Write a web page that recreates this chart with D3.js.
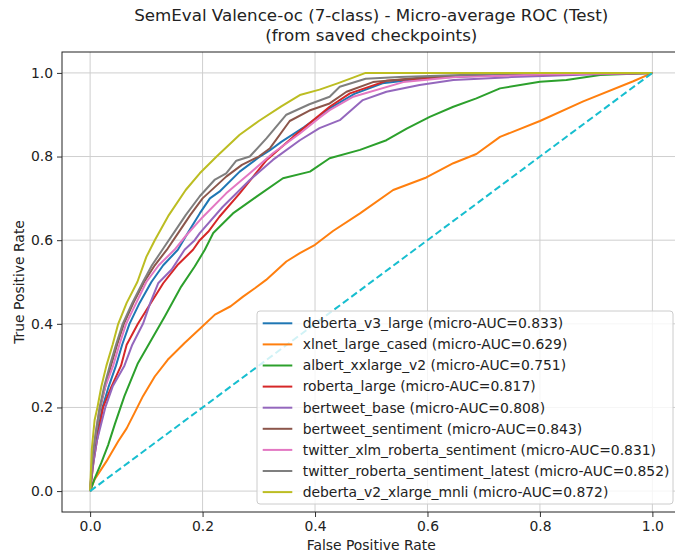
<!DOCTYPE html>
<html>
<head>
<meta charset="utf-8">
<script src="https://cdn.jsdelivr.net/npm/d3@7"></script>
<style>
  body { margin: 0; background: #fff; }
  svg { display: block; font-family: "DejaVu Sans", sans-serif; }
</style>
</head>
<body>
<svg id="chart"></svg>
<script>
// ---- DATA ----
const MODELS = [
  "deberta_v3_large", "xlnet_large_cased", "albert_xxlarge_v2", "roberta_large",
  "bertweet_base", "bertweet_sentiment", "twitter_xlm_roberta_sentiment",
  "twitter_roberta_sentiment_latest", "deberta_v2_xlarge_mnli"
];
const AUCS = [0.833, 0.629, 0.751, 0.817, 0.808, 0.843, 0.831, 0.852, 0.872];
const X_TICKS = [0, 0.2, 0.4, 0.6, 0.8, 1.0];
const Y_TICKS = [0, 0.2, 0.4, 0.6, 0.8, 1.0];

// [fpr, tpr]
const rocDebertaV3 = [[0,0],[0.003,0.05],[0.006,0.08],[0.012,0.13],[0.022,0.2],[0.033,0.25],[0.046,0.3],[0.057,0.35],[0.07,0.4],[0.088,0.45],[0.109,0.5],[0.13,0.54],[0.156,0.577],[0.175,0.62],[0.195,0.664],[0.213,0.7],[0.23,0.716],[0.266,0.764],[0.302,0.8],[0.32,0.815],[0.34,0.835],[0.38,0.87],[0.426,0.915],[0.47,0.95],[0.52,0.975],[0.6,0.988],[0.75,0.996],[1,1]];
const rocXlnet = [[0,0],[0.008,0.028],[0.029,0.071],[0.05,0.119],[0.065,0.15],[0.079,0.187],[0.094,0.227],[0.115,0.274],[0.138,0.314],[0.168,0.354],[0.2,0.394],[0.222,0.422],[0.25,0.442],[0.272,0.465],[0.293,0.485],[0.313,0.505],[0.349,0.549],[0.373,0.569],[0.4,0.589],[0.432,0.622],[0.48,0.664],[0.539,0.72],[0.598,0.75],[0.646,0.784],[0.687,0.806],[0.729,0.847],[0.8,0.885],[0.877,0.932],[0.966,0.98],[1,1]];
const rocAlbert = [[0,0],[0.008,0.03],[0.02,0.068],[0.032,0.11],[0.044,0.16],[0.061,0.227],[0.085,0.306],[0.109,0.362],[0.133,0.418],[0.162,0.489],[0.186,0.537],[0.204,0.577],[0.219,0.617],[0.254,0.664],[0.296,0.704],[0.343,0.748],[0.391,0.764],[0.426,0.796],[0.48,0.816],[0.527,0.839],[0.563,0.867],[0.604,0.895],[0.646,0.919],[0.687,0.939],[0.729,0.963],[0.8,0.979],[0.847,0.983],[0.907,0.995],[1,1]];
const rocRoberta = [[0,0],[0.006,0.07],[0.012,0.12],[0.023,0.2],[0.038,0.25],[0.055,0.3],[0.065,0.35],[0.085,0.4],[0.108,0.45],[0.13,0.497],[0.155,0.54],[0.183,0.577],[0.195,0.6],[0.21,0.62],[0.23,0.656],[0.266,0.712],[0.314,0.792],[0.361,0.847],[0.426,0.919],[0.462,0.951],[0.527,0.981],[0.65,0.992],[0.8,0.997],[1,1]];
const rocBertweetBase = [[0,0],[0.005,0.06],[0.012,0.12],[0.027,0.2],[0.04,0.25],[0.061,0.3],[0.075,0.35],[0.094,0.4],[0.107,0.45],[0.121,0.497],[0.145,0.53],[0.168,0.577],[0.186,0.6],[0.195,0.617],[0.236,0.68],[0.284,0.744],[0.325,0.792],[0.373,0.839],[0.408,0.868],[0.444,0.887],[0.485,0.935],[0.527,0.955],[0.586,0.971],[0.646,0.983],[0.75,0.99],[0.9,0.997],[1,1]];
const rocBertweetSent = [[0,0],[0.005,0.08],[0.011,0.14],[0.018,0.2],[0.027,0.25],[0.037,0.3],[0.048,0.35],[0.06,0.4],[0.077,0.45],[0.096,0.5],[0.115,0.54],[0.138,0.58],[0.158,0.62],[0.178,0.66],[0.2,0.7],[0.242,0.752],[0.27,0.78],[0.3,0.8],[0.32,0.82],[0.355,0.885],[0.39,0.91],[0.426,0.927],[0.456,0.955],[0.503,0.978],[0.6,0.99],[0.75,0.995],[0.9,0.998],[1,1]];
const rocXlmRoberta = [[0,0],[0.004,0.08],[0.01,0.14],[0.017,0.2],[0.027,0.25],[0.041,0.3],[0.052,0.35],[0.064,0.4],[0.082,0.45],[0.1,0.5],[0.122,0.54],[0.15,0.577],[0.17,0.61],[0.2,0.655],[0.242,0.712],[0.284,0.76],[0.325,0.808],[0.373,0.855],[0.408,0.893],[0.426,0.911],[0.468,0.943],[0.557,0.978],[0.65,0.99],[0.8,0.996],[1,1]];
const rocRobertaLatest = [[0,0],[0.004,0.08],[0.01,0.14],[0.017,0.2],[0.025,0.25],[0.035,0.3],[0.046,0.35],[0.058,0.4],[0.075,0.45],[0.094,0.5],[0.11,0.54],[0.13,0.58],[0.15,0.62],[0.17,0.66],[0.195,0.705],[0.222,0.745],[0.242,0.76],[0.26,0.79],[0.284,0.8],[0.314,0.844],[0.349,0.9],[0.39,0.925],[0.426,0.943],[0.444,0.967],[0.49,0.986],[0.55,0.99],[0.7,0.997],[0.8,1],[1,1]];
const rocDebertaV2 = [[0,0],[0.003,0.1],[0.008,0.17],[0.013,0.2],[0.02,0.25],[0.029,0.3],[0.04,0.35],[0.05,0.4],[0.065,0.45],[0.084,0.5],[0.1,0.56],[0.115,0.6],[0.14,0.66],[0.17,0.72],[0.195,0.76],[0.225,0.8],[0.266,0.852],[0.3,0.885],[0.34,0.92],[0.373,0.947],[0.408,0.96],[0.44,0.975],[0.47,0.99],[0.49,1],[1,1]];

const CURVES = [rocDebertaV3, rocXlnet, rocAlbert, rocRoberta, rocBertweetBase,
  rocBertweetSent, rocXlmRoberta, rocRobertaLatest, rocDebertaV2];
const CHANCE = [[0, 0], [1, 1]];

const LINE_COLORS = ["#1f77b4", "#ff7f0e", "#2ca02c", "#d62728", "#9467bd",
  "#8c564b", "#e377c2", "#7f7f7f", "#bcbd22"];

// 1. SETUP DIMENSIONS
const width = 675, height = 554;
const frame = { left: 62, right: 680.5, top: 52, bottom: 512 };
const FONT = 13.9;

const svg = d3.select("#chart").attr("width", width).attr("height", height);

const x = d3.scaleLinear().domain([-0.05, 1.05]).range([frame.left, frame.right]);
const y = d3.scaleLinear().domain([-0.05, 1.05]).range([frame.bottom, frame.top]);

// 2. GRID
const grid = svg.append("g").attr("stroke", "#cfcfcf").attr("stroke-width", 1);
grid.selectAll(".gx").data(X_TICKS).enter().append("line")
  .attr("x1", d => x(d)).attr("x2", d => x(d))
  .attr("y1", frame.top).attr("y2", frame.bottom);
grid.selectAll(".gy").data(Y_TICKS).enter().append("line")
  .attr("y1", d => y(d)).attr("y2", d => y(d))
  .attr("x1", frame.left).attr("x2", frame.right);

// 3. CURVES
const line = d3.line().x(d => x(d[0])).y(d => y(d[1]));

svg.append("g").selectAll("path")
  .data(CURVES)
  .enter().append("path")
  .attr("d", line)
  .attr("fill", "none")
  .attr("stroke", (d, i) => LINE_COLORS[i])
  .attr("stroke-width", 2)
  .attr("stroke-linejoin", "round");

svg.append("path")
  .attr("d", line(CHANCE))
  .attr("fill", "none")
  .attr("stroke", "#17becf")
  .attr("stroke-width", 2)
  .attr("stroke-dasharray", "7,3.5");

// 4. AXES
const xAxis = svg.append("g")
  .attr("transform", `translate(0,${frame.bottom})`)
  .call(d3.axisBottom(x).tickValues(X_TICKS).tickFormat(d3.format(".1f")).tickSize(5).tickPadding(4));
const yAxis = svg.append("g")
  .attr("transform", `translate(${frame.left},0)`)
  .call(d3.axisLeft(y).tickValues(Y_TICKS).tickFormat(d3.format(".1f")).tickSize(5).tickPadding(4));

[xAxis, yAxis].forEach(a => {
  a.select(".domain").remove();
  a.selectAll(".tick line").attr("stroke", "#333");
  a.selectAll(".tick text").attr("fill", "#222").style("font-size", FONT + "px")
    .style("font-family", "DejaVu Sans");
});

svg.append("rect")
  .attr("x", frame.left).attr("y", frame.top)
  .attr("width", frame.right - frame.left).attr("height", frame.bottom - frame.top)
  .attr("fill", "none").attr("stroke", "#222").attr("stroke-width", 1);

// 5. LABELS & TITLE
svg.append("text")
  .attr("x", (frame.left + frame.right) / 2).attr("y", 550)
  .attr("text-anchor", "middle").style("font-size", FONT + "px").attr("fill", "#222")
  .text("False Positive Rate");

svg.append("text")
  .attr("transform", `translate(24,${(frame.top + frame.bottom) / 2}) rotate(-90)`)
  .attr("text-anchor", "middle").style("font-size", FONT + "px").attr("fill", "#222")
  .text("True Positive Rate");

const title = svg.append("text")
  .attr("text-anchor", "middle").style("font-size", "16.7px").attr("fill", "#222");
title.append("tspan").attr("x", (frame.left + frame.right) / 2).attr("y", 21)
  .text("SemEval Valence-oc (7-class) - Micro-average ROC (Test)");
title.append("tspan").attr("x", (frame.left + frame.right) / 2).attr("y", 41)
  .text("(from saved checkpoints)");

// 6. LEGEND
const legend = svg.append("g").attr("transform", "translate(257,311)");
legend.append("rect")
  .attr("width", 416).attr("height", 193).attr("rx", 3)
  .attr("fill", "white").attr("fill-opacity", 0.8)
  .attr("stroke", "#cccccc").attr("stroke-width", 1);

const rows = legend.selectAll(".row")
  .data(MODELS)
  .enter().append("g")
  .attr("transform", (d, i) => `translate(0,${12.3 + i * 21.1})`);

rows.append("line")
  .attr("x1", 5.7).attr("x2", 35.3)
  .attr("stroke", (d, i) => LINE_COLORS[i]).attr("stroke-width", 2);

rows.append("text")
  .attr("x", 45.7).attr("dy", "0.35em")
  .style("font-size", FONT + "px").attr("fill", "#222")
  .text((d, i) => `${d} (micro-AUC=${d3.format(".3f")(AUCS[i])})`);
</script>
</body>
</html>
